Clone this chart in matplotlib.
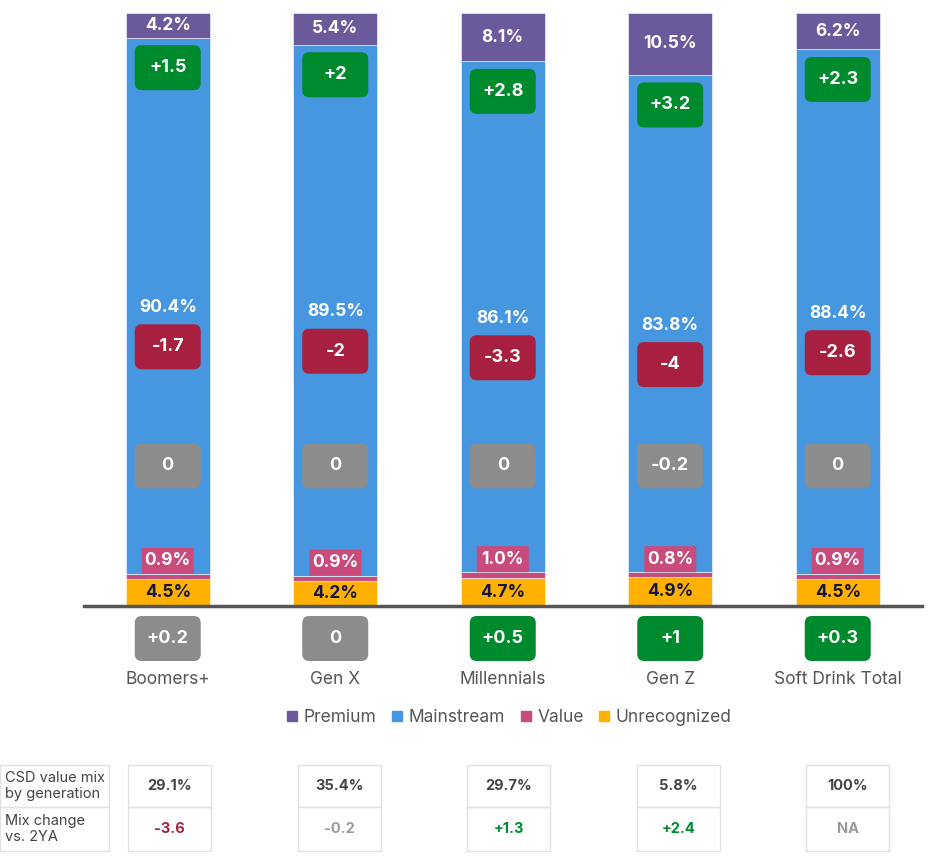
import matplotlib
matplotlib.use('Agg')
import matplotlib.pyplot as plt
import matplotlib.transforms as mtrans
from matplotlib.patches import FancyBboxPatch, Rectangle
from matplotlib.lines import Line2D

plt.rcParams['font.family'] = ['Inter', 'DejaVu Sans']

# data
groups = ['Boomers+', 'Gen X', 'Millennials', 'Gen Z', 'Soft Drink Total']
premium = [4.2, 5.4, 8.1, 10.5, 6.2]
mainstream = [90.4, 89.5, 86.1, 83.8, 88.4]
value = [0.9, 0.9, 1.0, 0.8, 0.9]
unrecognized = [4.5, 4.2, 4.7, 4.9, 4.5]

# change vs 2YA (pts) per segment
premium_chg = [1.5, 2, 2.8, 3.2, 2.3]
mainstream_chg = [-1.7, -2, -3.3, -4, -2.6]
value_chg = [0, 0, 0, -0.2, 0]
unrec_chg = [0.2, 0, 0.5, 1, 0.3]

# table under the chart
mix_share = ['29.1%', '35.4%', '29.7%', '5.8%', '100%']
mix_change = [-3.6, -0.2, 1.3, 2.4, None]

C_PREM = '#6A5A9B'
C_MAIN = '#4797E0'
C_VAL = '#C94B7B'
C_UNREC = '#FFB000'
C_GREEN = '#008A2E'
C_RED = '#A8203F'
C_GRAY = '#8C8C8C'


def fmt(v):
    if v == 0:
        return '0'
    return '{:+g}'.format(v)


def chg_color(v):
    if v is None or abs(v) <= 0.2:
        return C_GRAY
    return C_GREEN if v > 0 else C_RED


fig = plt.figure(figsize=(9.29, 8.58), dpi=100)
W, H = 929.0, 858.0
base_px, top_px = 606.0, 12.7
ax = fig.add_axes([84.0 / W, (H - base_px) / H, (921.5 - 84.0) / W, (base_px - top_px) / H])
ax.set_xlim(-0.5, 4.5)
ax.set_ylim(0, 100)
ppu = (base_px - top_px) / 100.0  # pixels per % unit


def badge(x, y, w, h, color, label, r=7, txtcolor='white', anchor='center', size=13):
    trans = fig.dpi_scale_trans + mtrans.ScaledTranslation(x, y, ax.transData)
    y0 = -h / 200.0 if anchor == 'center' else 0
    p = FancyBboxPatch((-w / 200.0, y0), w / 100.0, h / 100.0,
                       boxstyle='round,pad=0,rounding_size={}'.format(r / 100.0),
                       transform=trans, fc=color, ec='none', clip_on=False, zorder=4)
    ax.add_patch(p)
    ty = y if anchor == 'center' else y + h / 2.0 / ppu
    ax.text(x, ty, label, ha='center', va='center', color=txtcolor,
            fontsize=size, fontweight='bold', zorder=5, clip_on=False)


xs = list(range(len(groups)))
bw = 0.5
bottom = [0] * len(xs)
for vals, col in [(unrecognized, C_UNREC), (value, C_VAL), (mainstream, C_MAIN), (premium, C_PREM)]:
    ax.bar(xs, vals, bw, bottom=bottom, color=col, edgecolor='#FFFFFF', linewidth=0.4, zorder=2)
    bottom = [b + v for b, v in zip(bottom, vals)]

for i in xs:
    u, v, m, p = unrecognized[i], value[i], mainstream[i], premium[i]
    # unrecognized label
    ax.text(i, u / 2.0, '{:.1f}%'.format(u), ha='center', va='center', color='#15163C',
            fontsize=12.5, fontweight='bold', zorder=5)
    # value label sitting on top of the value segment
    badge(i, u + v, 52, 26, C_VAL, '{:.1f}%'.format(v), r=0, anchor='bottom', size=12.5)
    # mainstream label and its change
    mid = u + v + m / 2.0
    ax.text(i, mid - 1.5 / ppu, '{:.1f}%'.format(m), ha='center', va='center', color='white',
            fontsize=12.5, fontweight='bold', zorder=5)
    badge(i, mid - 41 / ppu, 66, 45, chg_color(mainstream_chg[i]), fmt(mainstream_chg[i]))
    # premium label and its change
    pb = u + v + m
    ax.text(i, pb + p / 2.0, '{:.1f}%'.format(p), ha='center', va='center', color='white',
            fontsize=12.5, fontweight='bold', zorder=5)
    badge(i, pb - 30 / ppu, 66, 45, chg_color(premium_chg[i]), fmt(premium_chg[i]))
    # value change
    badge(i, 23.6, 66, 45, chg_color(value_chg[i]), fmt(value_chg[i]))
    # unrecognized change, under the axis
    badge(i, -32.5 / ppu, 66, 45, chg_color(unrec_chg[i]), fmt(unrec_chg[i]))
    # category label
    ax.text(i, -73 / ppu, groups[i], ha='center', va='center', color='#555555', fontsize=12.5)

for s in ['top', 'right', 'left']:
    ax.spines[s].set_visible(False)
ax.spines['bottom'].set_color('#555555')
ax.spines['bottom'].set_linewidth(2.5)
ax.spines['bottom'].set_zorder(6)
ax.set_xticks([])
ax.set_yticks([])

# legend
handles = [Line2D([], [], marker='s', ls='none', color=c, markersize=7.5)
           for c in [C_PREM, C_MAIN, C_VAL, C_UNREC]]
fig.legend(handles, ['Premium', 'Mainstream', 'Value', 'Unrecognized'], ncol=4,
           loc='center', bbox_to_anchor=(509 / W, (H - 718) / H), frameon=False,
           handletextpad=0.3, columnspacing=0.85, handlelength=0.7,
           fontsize=12.5, labelcolor='#555555')

# table
tab = fig.add_axes([0, 0, 1, 1], zorder=-1)
tab.set_xlim(0, W)
tab.set_ylim(H, 0)
tab.axis('off')
r1, r2, r3 = 765, 807, 851
ec = '#E2E2E2'
tab.add_patch(Rectangle((0, r1), 109, r2 - r1, fc='none', ec=ec, lw=1))
tab.add_patch(Rectangle((0, r2), 109, r3 - r2, fc='none', ec=ec, lw=1))
tab.text(5, (r1 + r2) / 2.0, 'CSD value mix\nby generation', ha='left', va='center',
         color='#444444', fontsize=10.5, linespacing=1.15)
tab.text(5, (r2 + r3) / 2.0, 'Mix change\nvs. 2YA', ha='left', va='center',
         color='#444444', fontsize=10.5, linespacing=1.15)
for i in xs:
    cx = 169.5 + 169.6 * i
    tab.add_patch(Rectangle((cx - 41.5, r1), 83, r2 - r1, fc='none', ec=ec, lw=1))
    tab.add_patch(Rectangle((cx - 41.5, r2), 83, r3 - r2, fc='none', ec=ec, lw=1))
    tab.text(cx, (r1 + r2) / 2.0, mix_share[i], ha='center', va='center',
             color='#444444', fontsize=10.5, fontweight='bold')
    mc = mix_change[i]
    mcol = chg_color(mc)
    if mcol == C_GRAY:
        mcol = '#9A9A9A'
    tab.text(cx, (r2 + r3) / 2.0, 'NA' if mc is None else fmt(mc), ha='center', va='center',
             color=mcol, fontsize=10.5, fontweight='bold')

fig.savefig('out.png', dpi=100)
